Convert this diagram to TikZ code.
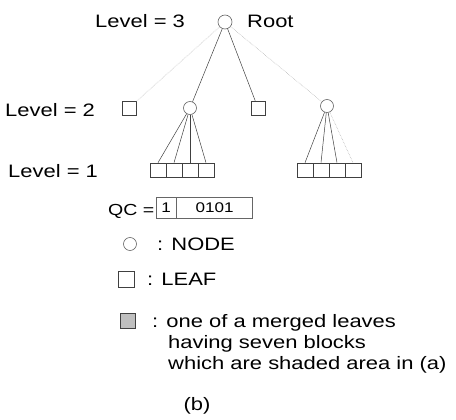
\documentclass[tikz,border=0pt]{standalone}
\usepackage{fontspec}
\setmainfont{Liberation Sans}[FakeStretch=1.22]
\newcommand*{\LeafY}{170}
\newcommand*{\LeafRow}[2]{% #1 = parent, #2 = list of name/x/edge style
  \foreach \name/\x/\look in {#2} {
    \node [leaf] (\name) at (\x,\LeafY) {};
    \draw [\look] (#1) -- (\name.north);
    }%
}

\begin{document}
\begin{tikzpicture}[x=1pt,y=-1pt,
    lbl/.style={anchor=base west, inner sep=0pt, font=\fontsize{18}{21}\selectfont},
    leaf/.style={draw=black!75, line width=.6pt, minimum width=16pt, minimum height=14pt, inner sep=0pt},
    nodec/.style={draw=black!60, line width=.6pt, circle, minimum size=13pt, inner sep=0pt},
    merged/.style={leaf, fill=black!25, minimum size=15pt},
    qcbox/.style={draw=black!60, line width=.6pt, minimum height=21pt, inner sep=0pt, font=\fontsize{14}{16}\selectfont},
    edge/.style={draw=black!75, line width=.5pt},
    faint/.style={draw=black!35, line width=.5pt, densely dotted}]
    \useasboundingbox (0,0) rectangle (456,420);

    % tree
    \node [lbl] (lv3) at (95,28) {Level = 3};
    \node [nodec, minimum width=14pt] (root) at (225,22) {};
    \node [lbl] (roottxt) at (247,28) {Root};

    \node [lbl] (lv2) at (5,117) {Level = 2};
    \node [leaf, minimum width=14pt] (l2a) at (129,108) {};
    \node [nodec] (n2b) at (190,108) {};
    \node [leaf, minimum width=14pt] (l2c) at (258,108) {};
    \node [nodec] (n2d) at (327,106) {};
    \draw [faint] (root) -- (l2a);
    \draw [edge] (root) -- (n2b);
    \draw [edge] (root) -- (l2c);
    \draw [faint] (root) -- (n2d);

    \node [lbl] (lv1) at (8,178) {Level = 1};
    \LeafRow{n2b}{b1/158/edge, b2/174/edge, b3/190/edge, b4/206/edge}
    \LeafRow{n2d}{d1/305/edge, d2/321/edge, d3/337/edge, d4/353/faint}

    % quadtree code
    \node [lbl, font=\fontsize{16}{19}\selectfont] (qc) at (108,215) {QC =};
    \node [qcbox, minimum width=20pt] (qc1) at (166,208) {1};
    \node [qcbox, minimum width=76pt, anchor=west] (qc2) at (qc1.east) {0101};

    % legend
    \node [nodec] (kn) at (130,244) {};
    \node [lbl] (kntxt) at (157,250) {: NODE};
    \node [leaf, minimum size=16pt] (kl) at (126,279) {};
    \node [lbl] (kltxt) at (147,285) {: LEAF};
    \node [merged] (km) at (128,321) {};
    \node [lbl] (km1) at (152,327) {: one of a merged leaves};
    \node [lbl] (km2) at (168,348) {having seven blocks};
    \node [lbl] (km3) at (168,369) {which are shaded area in (a)};

    \node [lbl, anchor=base] (cap) at (197,410) {(b)};
\end{tikzpicture}
\end{document}
